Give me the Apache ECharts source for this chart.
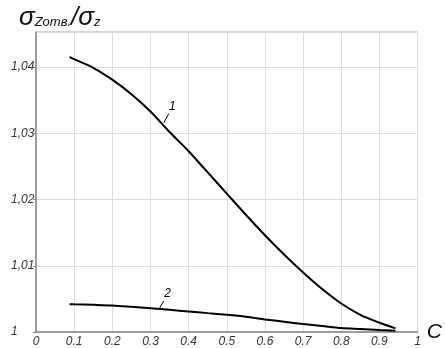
<!DOCTYPE html>
<html>
<head>
<meta charset="utf-8">
<script src="https://cdn.jsdelivr.net/npm/echarts@6/dist/echarts.min.js"></script>
<style>
  html, body { margin: 0; padding: 0; background: #fff; }
  #chart-container { width: 445px; height: 348px; }
</style>
</head>
<body>
<div id="chart-container"></div>
<script>
// values
var cValues = [0.088, 0.1, 0.15, 0.2, 0.25, 0.3, 0.35, 0.4, 0.45, 0.5, 0.55, 0.6, 0.65, 0.7, 0.75, 0.8, 0.85, 0.9, 0.942];
var curve1 = [1.04155, 1.0412, 1.0399, 1.0381, 1.0359, 1.0333, 1.0302, 1.0273, 1.0241, 1.0209, 1.0177, 1.0146, 1.0117, 1.0090, 1.0065, 1.0043, 1.0026, 1.0014, 1.00055];
var curve2 = [1.0042, 1.00418, 1.0041, 1.0040, 1.0038, 1.00358, 1.00335, 1.0031, 1.00285, 1.0026, 1.0023, 1.0019, 1.00155, 1.0012, 1.0009, 1.0006, 1.00045, 1.0003, 1.0002];
var curveNames = ['1', '2'];
// leader lines and their label spots (data coords)
var leader1 = [[0.335, 1.0316], [0.348, 1.0330]];
var labelPos1 = [0.357, 1.0341];
var leader2 = [[0.321, 1.00335], [0.335, 1.0047]];
var labelPos2 = [0.345, 1.0058];

function pairs(xs, ys) {
    return xs.map(function (x, i) { return [x, ys[i]]; });
}

function curveSeries(name, data, leader, labelPos) {
    return {
        name: name,
        type: 'line',
        data: data,
        smooth: 0.3,
        showSymbol: false,
        lineStyle: { color: '#000', width: 2 },
        markLine: {
            silent: true,
            symbol: 'none',
            label: { show: false },
            lineStyle: { color: '#000', width: 1, type: 'solid' },
            data: [[{ coord: leader[0] }, { coord: leader[1] }]]
        },
        markPoint: {
            silent: true,
            symbol: 'circle',
            symbolSize: 0,
            label: {
                show: true,
                position: 'inside',
                formatter: name,
                color: '#000',
                fontStyle: 'italic',
                fontFamily: 'Liberation Sans',
                fontSize: 12
            },
            data: [{ coord: labelPos }]
        }
    };
}

var myChart = echarts.init(document.getElementById('chart-container'));

var labelFont = {
    color: '#333',
    fontStyle: 'italic',
    fontFamily: 'Liberation Sans',
    fontSize: 12
};

var option = {
    animation: false,
    backgroundColor: '#fff',
    title: {
        left: 14,
        top: 0,
        text: '{big|σ}{small|Zomв.}{big|/σ}{small|z}',
        textStyle: {
            fontWeight: 'normal',
            rich: {
                big: { fontSize: 26, fontWeight: 'normal', fontStyle: 'italic', fontFamily: 'Liberation Sans', color: '#111' },
                small: { fontSize: 13, fontWeight: 'normal', fontStyle: 'italic', fontFamily: 'Liberation Sans', color: '#111', padding: [8, 0, 0, 0] }
            }
        }
    },
    grid: {
        left: 36, right: 14, top: 32, bottom: 15,
        show: true,
        borderColor: '#aaa',
        borderWidth: 1
    },
    xAxis: {
        type: 'value',
        min: 0, max: 1, interval: 0.1,
        name: 'C',
        nameLocation: 'end',
        nameGap: 2,
        nameTextStyle: { fontSize: 21, fontStyle: 'italic', fontFamily: 'Liberation Sans', color: '#111', verticalAlign: 'middle' },
        axisLine: { lineStyle: { color: '#888', width: 1.5 } },
        axisTick: { show: false },
        splitLine: { lineStyle: { color: '#ddd' } },
        axisLabel: Object.assign({
            margin: 4,
            formatter: function (v) {
                var r = Math.round(v * 10) / 10;
                return (r === 0 || r === 1) ? String(r) : r.toFixed(1);
            }
        }, labelFont)
    },
    yAxis: {
        type: 'value',
        min: 1, max: 1.0453, interval: 0.01,
        axisLine: { show: true, lineStyle: { color: '#888', width: 1.5 } },
        axisTick: { show: true, length: 3, lineStyle: { color: '#888' } },
        splitLine: { lineStyle: { color: '#ddd' } },
        axisLabel: Object.assign({
            margin: 25,
            align: 'left',
            showMaxLabel: false,
            formatter: function (v) {
                var r = Math.round(v * 100) / 100;
                return String(r).replace('.', ',');
            }
        }, labelFont)
    },
    series: [
        curveSeries(curveNames[0], pairs(cValues, curve1), leader1, labelPos1),
        curveSeries(curveNames[1], pairs(cValues, curve2), leader2, labelPos2)
    ]
};
myChart.setOption(option);
</script>
</body>
</html>
